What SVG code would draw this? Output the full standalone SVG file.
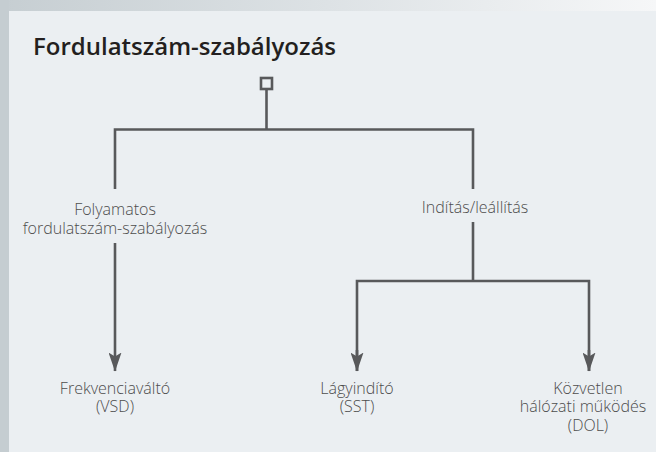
<svg xmlns="http://www.w3.org/2000/svg" width="656" height="452" viewBox="0 0 656 452">
<defs>
<linearGradient id="bg" x1="0" y1="0" x2="1" y2="0">
<stop offset="0" stop-color="#c6ced2"/>
<stop offset="0.5" stop-color="#dde2e5"/>
<stop offset="1" stop-color="#f6f7f8"/>
</linearGradient>
<marker id="arrd" viewBox="0 0 13 19" refX="6.5" refY="18.5" markerWidth="13" markerHeight="19" markerUnits="userSpaceOnUse" orient="0">
<path d="M0,0 L6.5,4 L13,0 L6.5,19 Z" fill="#58595b"/>
</marker>
</defs>
<style>
.ln{fill:none;stroke:#58595b;stroke-width:2.6}
.lbl{font-family:"Open Sans","Liberation Sans",sans-serif;font-size:16px;font-weight:300;fill:#4d4d4d;text-anchor:middle}
.ttl{font-family:"Open Sans","Liberation Sans",sans-serif;font-size:24px;font-weight:600;fill:#231f20}
</style>
<rect x="0" y="0" width="656" height="452" fill="url(#bg)"/>
<rect x="0" y="0" width="9" height="452" fill="#c5cdd1"/>
<rect x="9" y="11" width="647" height="441" fill="#ebeff2"/>
<text class="ttl" x="33" y="55">Fordulatszám-szabályozás</text>
<g id="connectors">
<path class="ln" d="M266.5,89.5 V129.5"/>
<path class="ln" d="M115,189 V129.5 H473 V189"/>
<path class="ln" d="M115,243 V371" marker-end="url(#arrd)"/>
<path class="ln" d="M473,222 V281"/>
<path class="ln" d="M357,371 V281 H589 V371"/>
<path class="ln" d="M357,350 V371" marker-end="url(#arrd)"/>
<path class="ln" d="M589,350 V371" marker-end="url(#arrd)"/>
</g>
<g id="root">
<rect class="ln" x="261" y="78" width="11" height="11"/>
</g>
<g id="n-folyamatos">
<text class="lbl" x="115" y="215">Folyamatos</text>
<text class="lbl" x="115" y="233.5">fordulatszám-szabályozás</text>
</g>
<g id="n-indits">
<text class="lbl" x="475" y="213">Indítás/leállítás</text>
</g>
<g id="n-vsd">
<text class="lbl" x="115" y="393.5">Frekvenciaváltó</text>
<text class="lbl" x="115" y="412">(VSD)</text>
</g>
<g id="n-sst">
<text class="lbl" x="357" y="393.5">Lágyindító</text>
<text class="lbl" x="357" y="412">(SST)</text>
</g>
<g id="n-dol">
<text class="lbl" x="588" y="393.5">Közvetlen</text>
<text class="lbl" x="583" y="412">hálózati működés</text>
<text class="lbl" x="588" y="430.5">(DOL)</text>
</g>
</svg>
